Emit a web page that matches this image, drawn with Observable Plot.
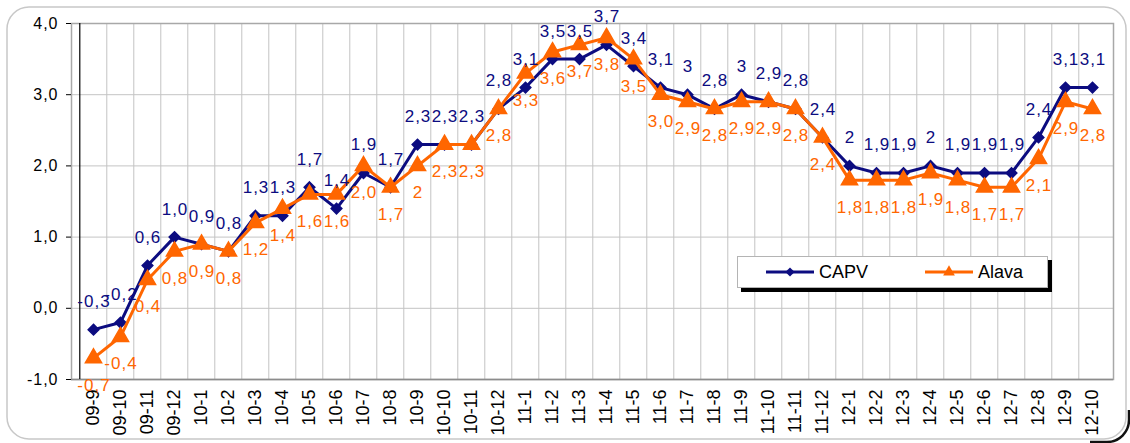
<!DOCTYPE html>
<html><head><meta charset="utf-8">
<script src="https://cdn.jsdelivr.net/npm/d3@7"></script>
<script src="https://cdn.jsdelivr.net/npm/@observablehq/plot@0.6"></script>
<style>
body{margin:0;background:#fff;}
#wrap{position:relative;width:1130px;height:443px;font-family:"Liberation Sans",Arial,sans-serif;}
#legend{position:absolute;left:737px;top:256px;width:311px;height:32px;background:#fff;border:1px solid #b4b4b4;box-shadow:4px 4px 0 #000;box-sizing:border-box;}
#legend svg{position:absolute;left:0;top:0;}
.lbl text{letter-spacing:1px;}
.yax text{letter-spacing:1px;}
</style>
</head><body>
<div id="wrap"></div>
<script>
const months = ["09-9","09-10","09-11","09-12",
  "10-1","10-2","10-3","10-4","10-5","10-6","10-7","10-8","10-9","10-10","10-11","10-12",
  "11-1","11-2","11-3","11-4","11-5","11-6","11-7","11-8","11-9","11-10","11-11","11-12",
  "12-1","12-2","12-3","12-4","12-5","12-6","12-7","12-8","12-9","12-10"];
const capv = [-0.3,-0.2,0.6,1.0,0.9,0.8,1.3,1.3,1.7,1.4,1.9,1.7,2.3,2.3,2.3,2.8,3.1,3.5,3.5,3.7,3.4,3.1,3.0,2.8,3.0,2.9,2.8,2.4,2.0,1.9,1.9,2.0,1.9,1.9,1.9,2.4,3.1,3.1];
const alava = [-0.7,-0.4,0.4,0.8,0.9,0.8,1.2,1.4,1.6,1.6,2.0,1.7,2.0,2.3,2.3,2.8,3.3,3.6,3.7,3.8,3.5,3.0,2.9,2.8,2.9,2.9,2.8,2.4,1.8,1.8,1.8,1.9,1.8,1.7,1.7,2.1,2.9,2.8];
const capvLabels = ["-0,3","-0,2","0,6","1,0","0,9","0,8","1,3","1,3","1,7","1,4","1,9","1,7","2,3","2,3","2,3","2,8","3,1","3,5","3,5","3,7","3,4","3,1","3","2,8","3","2,9","2,8","2,4","2","1,9","1,9","2","1,9","1,9","1,9","2,4","3,1","3,1"];
const alavaLabels = ["-0,7","-0,4","0,4","0,8","0,9","0,8","1,2","1,4","1,6","1,6","2,0","1,7","2","2,3","2,3","2,8","3,3","3,6","3,7","3,8","3,5","3,0","2,9","2,8","2,9","2,9","2,8","2,4","1,8","1,8","1,8","1,9","1,8","1,7","1,7","2,1","2,9","2,8"];
const yTicks = [-1,0,1,2,3,4];
const seriesNames = ["CAPV","Alava"];

const NAVY = "#0c0c80", ORANGE = "#ff6600";
const capvData = months.map((m,i)=>({m, v:capv[i], t:capvLabels[i]}));
const alavaData = months.map((m,i)=>({m, v:alava[i], t:alavaLabels[i]}));
const fmt = d => d.toFixed(1).replace(".", ",");

const W = 1130, H = 443, ML = 71, MR = 17, MT = 23, MB = 64;
const step = (W - ML - MR) / months.length;

const plot = Plot.plot({
  width: W, height: H,
  marginLeft: ML, marginRight: MR, marginTop: MT, marginBottom: MB,
  style: {fontFamily: "'Liberation Sans', Arial, sans-serif", fontSize: "16px", background: "transparent", color: "#000", overflow: "visible"},
  x: {type: "point", domain: months, padding: 0.5, label: null},
  y: {domain: [-1, 4], label: null},
  marks: [
    Plot.ruleY(yTicks.slice(1), {stroke: "#c4c4c4", strokeWidth: 1}),
    Plot.ruleX(months.slice(1), {x: d => d, dx: -step/2, stroke: "#c4c4c4", strokeWidth: 1}),
    Plot.frame({stroke: "#a8a8a8", strokeWidth: 1.5}),
    Plot.ruleY([-1], {stroke: "#8c8c8c", strokeWidth: 1.5}),
    Plot.ruleX(months.slice(0,1), {x: d => d, dx: -step/2, stroke: "#000", strokeWidth: 1.2}),
    Plot.axisY({ticks: yTicks, tickFormat: fmt, tickSize: 5, tickPadding: 8, fontSize: 16, stroke: "#000", label: null, className: "yax"}),
    Plot.axisX({tickRotate: -90, tickSize: 0, tickPadding: 10, fontSize: 18, label: null}),
    Plot.line(capvData, {x: "m", y: "v", stroke: NAVY, strokeWidth: 3}),
    Plot.dot(capvData, {x: "m", y: "v", symbol: "diamond2", r: 4.8, fill: NAVY, stroke: NAVY}),
    Plot.line(alavaData, {x: "m", y: "v", stroke: ORANGE, strokeWidth: 3}),
    Plot.dot(alavaData, {x: "m", y: "v", symbol: "triangle", r: 6, fill: ORANGE, stroke: ORANGE}),
    Plot.text(capvData, {x: "m", y: "v", text: "t", dy: -28, dx: 0.5, fill: NAVY, fontSize: 17, className: "lbl"}),
    Plot.text(alavaData, {x: "m", y: "v", text: "t", dy: 27, dx: 0.5, fill: ORANGE, fontSize: 17, className: "lbl"})
  ]
});

// outer rounded frame with a corner shadow
const svg = d3.select(plot);
const defs = svg.insert("defs", ":first-child");
defs.append("clipPath").attr("id", "cornerClip")
  .append("rect").attr("x", 1090).attr("y", 410).attr("width", 40).attr("height", 33);
svg.insert("rect", "defs + *")
  .attr("x", 7).attr("y", 7).attr("width", 1119).attr("height", 432)
  .attr("rx", 22).attr("fill", "#fff").attr("stroke", "#c8c8c8").attr("stroke-width", 1.5);
svg.insert("rect", "defs + *")
  .attr("x", 10).attr("y", 10).attr("width", 1119).attr("height", 432)
  .attr("rx", 22).attr("fill", "none").attr("stroke", "#111").attr("stroke-width", 2.5)
  .attr("clip-path", "url(#cornerClip)");

const wrap = document.getElementById("wrap");
wrap.appendChild(plot);

// legend
const legend = document.createElement("div");
legend.id = "legend";
const ls = d3.create("svg").attr("width", 310).attr("height", 30);
const entries = [
  {name: seriesNames[0], color: NAVY, sym: d3.symbolSquare, rot: 45, size: 42, x0: 28},
  {name: seriesNames[1], color: ORANGE, sym: d3.symbolTriangle, rot: 0, size: 60, x0: 187}
];
for (const e of entries) {
  const g = ls.append("g").attr("transform", `translate(${e.x0},15)`);
  g.append("line").attr("x1", 0).attr("x2", 48).attr("stroke", e.color).attr("stroke-width", 3);
  g.append("path").attr("d", d3.symbol(e.sym, e.size)()).attr("transform", `translate(24,0) rotate(${e.rot})`).attr("fill", e.color);
  g.append("text").attr("x", 53).attr("y", 0).attr("dy", "0.35em").attr("font-size", 18)
    .attr("font-family", "'Liberation Sans', Arial, sans-serif").attr("fill", "#000").text(e.name);
}
legend.appendChild(ls.node());
wrap.appendChild(legend);
</script>
</body></html>
